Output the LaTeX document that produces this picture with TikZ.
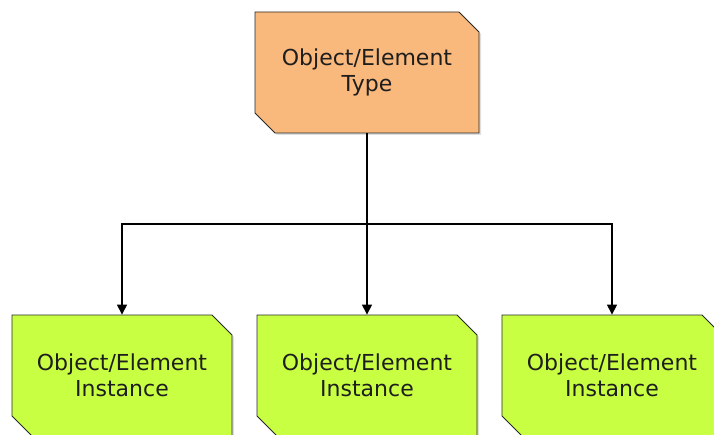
\documentclass[tikz,border=0pt]{standalone}
\usepackage{fontspec}
\setmainfont{DejaVu Sans}
\usetikzlibrary{arrows.meta}
\usetikzlibrary{shapes.misc}
\usetikzlibrary{shadows}

\definecolor{typefill}{RGB}{249,184,124}
\definecolor{instfill}{RGB}{200,255,66}
\definecolor{boxline}{RGB}{40,40,40}
\definecolor{textdark}{RGB}{30,30,30}

\tikzset{
	cutbox/.style={chamfered rectangle, chamfered rectangle corners={north east,south west},
		chamfered rectangle xsep=10pt, chamfered rectangle ysep=10pt,
		draw=boxline, line width=0.8pt, minimum width=220pt, minimum height=121pt,
		align=center, text=textdark, font=\fontsize{22}{25.5}\selectfont,
		drop shadow={shadow xshift=2pt, shadow yshift=-2pt, opacity=0.25}},
	link/.style={line width=1.2pt, -{Triangle[width=10pt,length=10pt]}}
}

\begin{document}
\begin{tikzpicture}[x=1pt,y=1pt]
	\useasboundingbox (0,0) rectangle (714,434);

	%Element type at the top
	\node [cutbox, fill=typefill, minimum width=224pt] (type) at (367,361.5) {Object/Element\\Type};

	%Instances at the bottom
	\node [cutbox, fill=instfill] (instL) at (122,58.5) {Object/Element\\Instance};
	\node [cutbox, fill=instfill] (instM) at (367,58.5) {Object/Element\\Instance};
	\node [cutbox, fill=instfill] (instR) at (612,58.5) {Object/Element\\Instance};

	%Branch point
	\coordinate (split) at (367,210);
	\draw [line width=2.5pt] (type.south) -- (split);

	%Links to the instances
	\draw [link] (split) -| (instL.north);
	\draw [link] (split) -- (instM.north);
	\draw [link] (split) -| (instR.north);
\end{tikzpicture}
\end{document}
